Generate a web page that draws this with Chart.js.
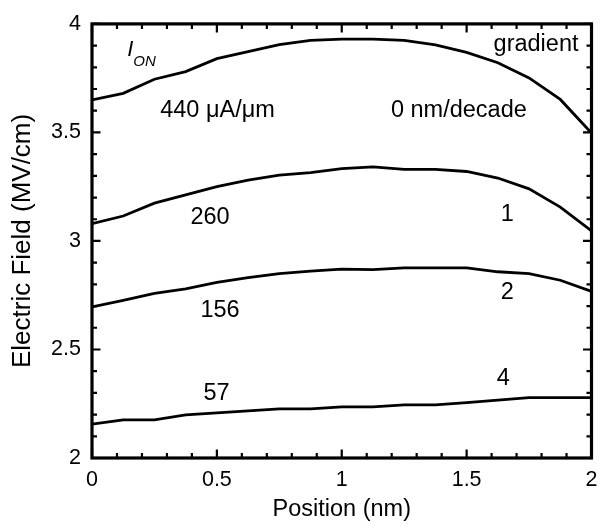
<!DOCTYPE html>
<html><head><meta charset="utf-8">
<script src="https://cdn.jsdelivr.net/npm/chart.js@4"></script>
<style>html,body{margin:0;padding:0;background:#fff}canvas{display:block}</style>
</head><body>
<canvas id="c" width="600" height="524"></canvas>
<script>
// ---- data ----
const positions = [0, 0.125, 0.25, 0.375, 0.5, 0.625, 0.75, 0.875, 1, 1.125, 1.25, 1.375, 1.5, 1.625, 1.75, 1.875, 2];
const field440 = [3.65, 3.68, 3.745, 3.78, 3.84, 3.872, 3.904, 3.924, 3.93, 3.93, 3.924, 3.903, 3.869, 3.821, 3.751, 3.652, 3.497];
const field260 = [3.08, 3.115, 3.174, 3.212, 3.25, 3.28, 3.303, 3.315, 3.333, 3.341, 3.33, 3.33, 3.32, 3.29, 3.24, 3.156, 3.046];
const field156 = [2.696, 2.726, 2.758, 2.779, 2.809, 2.831, 2.849, 2.861, 2.87, 2.868, 2.876, 2.876, 2.876, 2.858, 2.849, 2.819, 2.768];
const field57  = [2.156, 2.176, 2.176, 2.199, 2.208, 2.217, 2.226, 2.226, 2.236, 2.236, 2.245, 2.245, 2.255, 2.267, 2.278, 2.278, 2.278];
const xTickLabels = ['0', '0.5', '1', '1.5', '2'];
const yTickLabels = ['2', '2.5', '3', '3.5', '4'];
const annotations = [
  {text: 'gradient', x: 1.948, y: 3.877, align: 'right'},
  {text: '440 \u03bcA/\u03bcm', x: 0.273, y: 3.573, align: 'left'},
  {text: '0 nm/decade', x: 1.197, y: 3.573, align: 'left'},
  {text: '260', x: 0.394, y: 3.080, align: 'left'},
  {text: '1', x: 1.663, y: 3.093, align: 'center'},
  {text: '156', x: 0.434, y: 2.651, align: 'left'},
  {text: '2', x: 1.663, y: 2.733, align: 'center'},
  {text: '57', x: 0.446, y: 2.269, align: 'left'},
  {text: '4', x: 1.647, y: 2.337, align: 'center'}
];
const ionLabel = {main: 'I', sub: 'ON', x: 0.141, y: 3.854, subX: 0.165, subY: 3.804};

const FONT = "'Liberation Sans', Arial, Helvetica, sans-serif";
const mk = (vals) => positions.map((p, i) => ({x: p, y: vals[i]}));
const isMajor = v => Math.abs(v * 2 - Math.round(v * 2)) < 1e-6;
const fmt = v => String(Math.round(v * 10) / 10);

const bgPlugin = {
  id: 'bg',
  beforeDraw(chart) {
    const ctx = chart.ctx;
    ctx.save(); ctx.fillStyle = '#fff'; ctx.fillRect(0, 0, chart.width, chart.height); ctx.restore();
  }
};

const framePlugin = {
  id: 'frame',
  afterDatasetsDraw(chart) {
    const {ctx, chartArea: a, scales: {x, y}} = chart;
    ctx.save();
    ctx.strokeStyle = '#000';
    ctx.lineWidth = 2.2;
    ctx.beginPath();
    x.ticks.forEach(t => {
      const px = x.getPixelForValue(t.value);
      const L = isMajor(t.value) ? 8.5 : 5;
      ctx.moveTo(px, a.bottom); ctx.lineTo(px, a.bottom - L);
      ctx.moveTo(px, a.top); ctx.lineTo(px, a.top + L);
    });
    y.ticks.forEach(t => {
      const py = y.getPixelForValue(t.value);
      const L = isMajor(t.value) ? 8.5 : 5;
      ctx.moveTo(a.left, py); ctx.lineTo(a.left + L, py);
      ctx.moveTo(a.right, py); ctx.lineTo(a.right - L, py);
    });
    ctx.stroke();
    ctx.lineWidth = 3.2;
    ctx.strokeRect(a.left, a.top, a.right - a.left, a.bottom - a.top);

    // annotations
    ctx.fillStyle = '#000';
    ctx.textBaseline = 'alphabetic';
    ctx.font = '23.5px ' + FONT;
    annotations.forEach(an => {
      ctx.textAlign = an.align;
      ctx.fillText(an.text, x.getPixelForValue(an.x), y.getPixelForValue(an.y));
    });
    ctx.textAlign = 'left';
    ctx.font = 'italic 22px ' + FONT;
    ctx.fillText(ionLabel.main, x.getPixelForValue(ionLabel.x), y.getPixelForValue(ionLabel.y));
    ctx.font = 'italic 15px ' + FONT;
    ctx.fillText(ionLabel.sub, x.getPixelForValue(ionLabel.subX), y.getPixelForValue(ionLabel.subY));
    ctx.restore();
  }
};

const lineDs = (label, vals) => ({
  label, data: mk(vals), borderColor: '#000', borderWidth: 2.8,
  pointRadius: 0, tension: 0, fill: false
});

new Chart(document.getElementById('c'), {
  type: 'line',
  data: {
    datasets: [
      lineDs('440 \u03bcA/\u03bcm, 0 nm/decade', field440),
      lineDs('260, 1', field260),
      lineDs('156, 2', field156),
      lineDs('57, 4', field57)
    ]
  },
  options: {
    responsive: false,
    animation: false,
    devicePixelRatio: 1,
    layout: {padding: {top: 18, right: 8.5, left: 0, bottom: 0}},
    plugins: {legend: {display: false}, tooltip: {enabled: false}},
    scales: {
      x: {
        type: 'linear', min: 0, max: 2,
        afterFit(s) { s.height = 66; },
        grid: {display: true, drawOnChartArea: false, drawTicks: true, tickLength: 9,
               color: 'rgba(0,0,0,0)', tickColor: 'rgba(0,0,0,0)'},
        border: {display: false},
        ticks: {
          stepSize: 0.1, autoSkip: false, maxRotation: 0, minRotation: 0, padding: 0,
          color: '#000', font: {family: FONT, size: 21.5},
          callback: v => { const s = fmt(v); return xTickLabels.includes(s) && isMajor(v) ? s : ''; }
        },
        title: {display: true, text: 'Position (nm)', color: '#000',
          font: {family: FONT, size: 23.5}, padding: {top: 0, bottom: 0}}
      },
      y: {
        type: 'linear', min: 2, max: 4,
        afterFit(s) { s.width = 92; },
        grid: {display: false, drawTicks: false},
        border: {display: false},
        ticks: {
          stepSize: 0.1, autoSkip: false, padding: 11,
          color: '#000', font: {family: FONT, size: 21.5},
          callback: v => { const s = fmt(v); return yTickLabels.includes(s) && isMajor(v) ? s : ''; }
        },
        title: {display: true, text: 'Electric Field (MV/cm)', color: '#000',
          font: {family: FONT, size: 26}, padding: {top: 7, bottom: 0}}
      }
    }
  },
  plugins: [bgPlugin, framePlugin]
});
</script>
</body></html>
